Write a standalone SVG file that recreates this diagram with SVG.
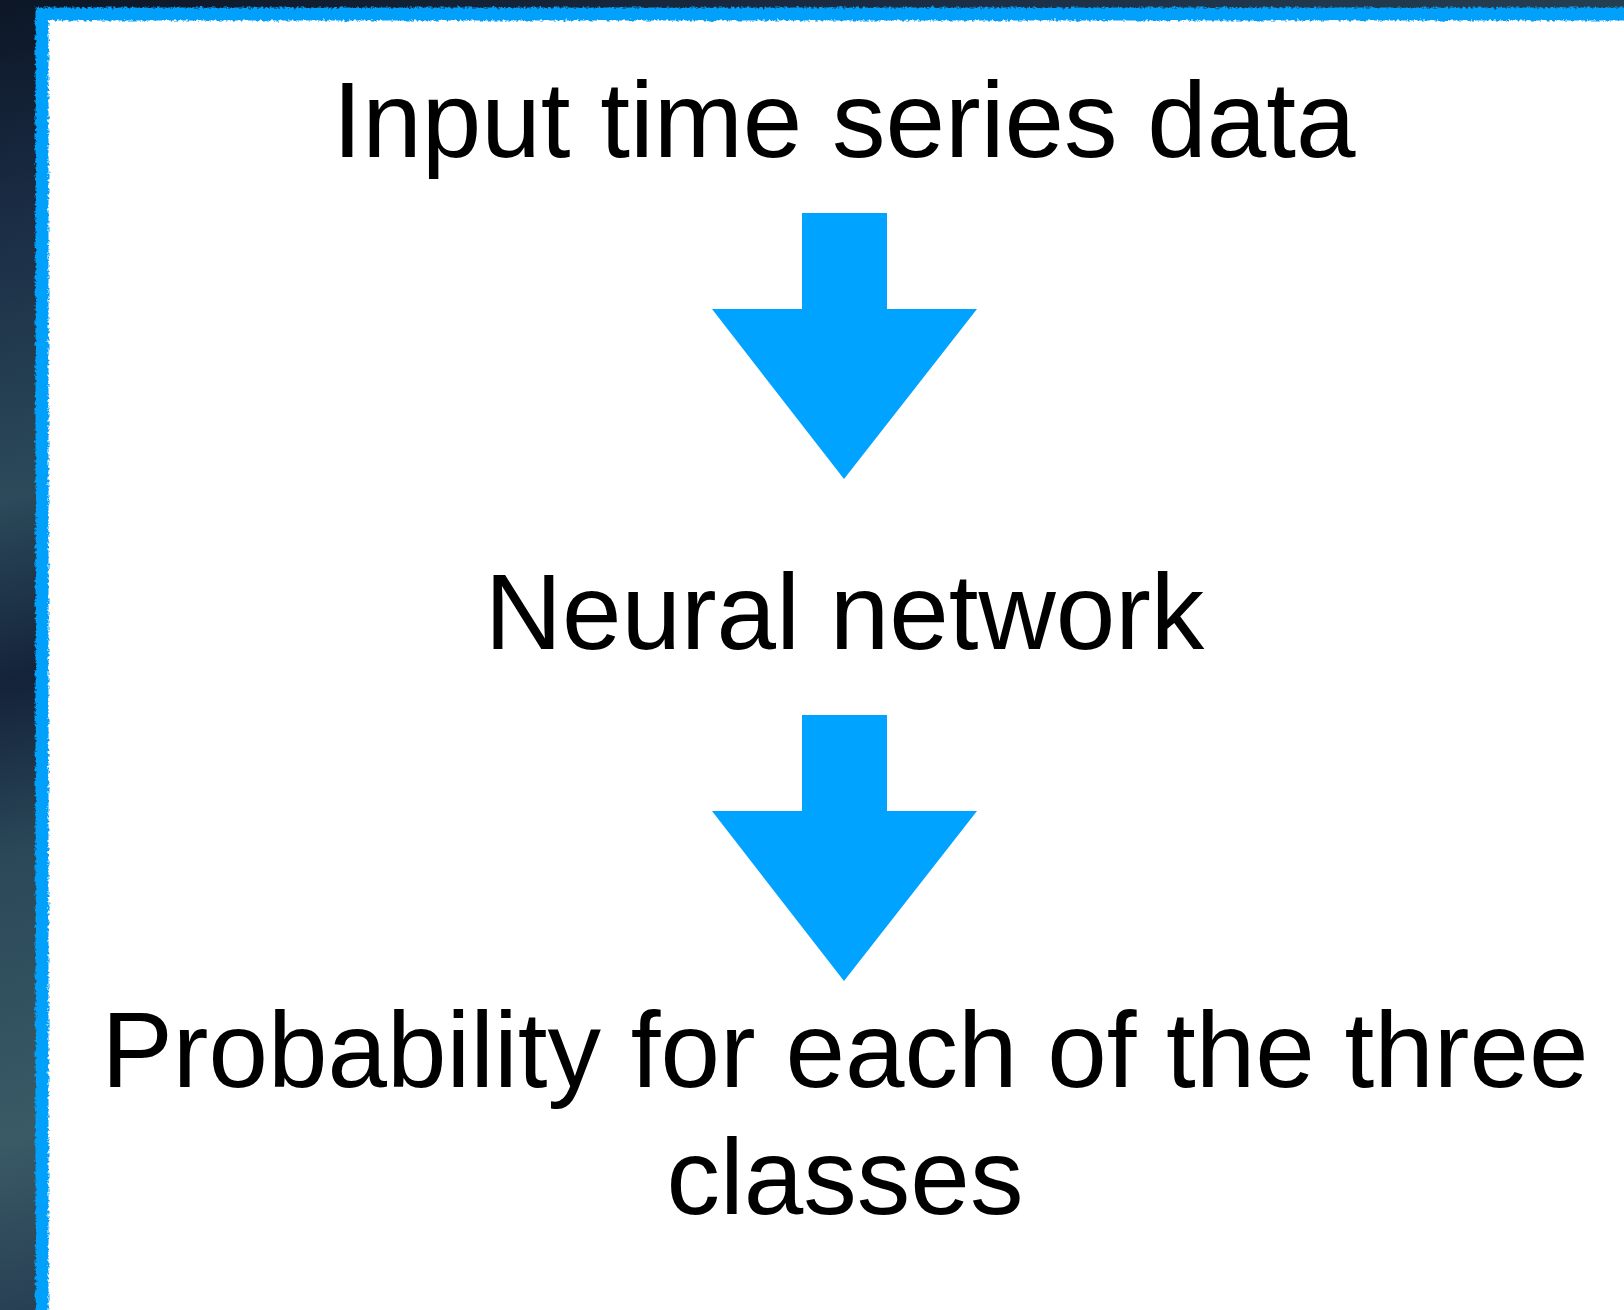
<svg xmlns="http://www.w3.org/2000/svg" width="1624" height="1310" viewBox="0 0 1624 1310">
  <style>
    .label { font-family: "Liberation Sans", Arial, Helvetica, sans-serif; font-size: 107px; fill: #000000; text-anchor: middle; }
    .arrow { fill: #00a3ff; }
  </style>
  <defs>
    <linearGradient id="bg" x1="0" y1="0" x2="0.3" y2="1">
      <stop offset="0" stop-color="#0c1626"/>
      <stop offset="0.15" stop-color="#1a2c44"/>
      <stop offset="0.35" stop-color="#2b4a5a"/>
      <stop offset="0.48" stop-color="#14223a"/>
      <stop offset="0.6" stop-color="#2a4858"/>
      <stop offset="0.8" stop-color="#3a5a66"/>
      <stop offset="1" stop-color="#1c2f48"/>
    </linearGradient>
    <filter id="rough" x="-5%" y="-5%" width="110%" height="110%">
      <feTurbulence type="fractalNoise" baseFrequency="0.35" numOctaves="2" seed="3" result="n"/>
      <feDisplacementMap in="SourceGraphic" in2="n" scale="5" xChannelSelector="R" yChannelSelector="G"/>
    </filter>
    <path id="arrowShape" d="M802,213 L887,213 L887,309 L977,309 L844,479 L712,309 L802,309 Z"/>
  </defs>

  <g id="background">
    <rect x="0" y="0" width="1624" height="1310" fill="url(#bg)"/>
  </g>

  <g id="frame">
    <rect x="42" y="14" width="1600" height="1305" fill="#ffffff"/>
    <rect x="42" y="14" width="1600" height="1305" fill="none" stroke="#00a0fb" stroke-width="13" filter="url(#rough)"/>
  </g>

  <g id="node-input">
    <text class="label" x="844" y="157">Input time series data</text>
  </g>

  <g id="node-network">
    <text class="label" x="844.5" y="649">Neural network</text>
  </g>

  <g id="node-output">
    <text class="label" x="845" y="1087">Probability for each of the three</text>
    <text class="label" x="845" y="1214">classes</text>
  </g>

  <g id="connectors">
    <use href="#arrowShape" class="arrow"/>
    <use href="#arrowShape" class="arrow" transform="translate(0,502)"/>
  </g>
</svg>
